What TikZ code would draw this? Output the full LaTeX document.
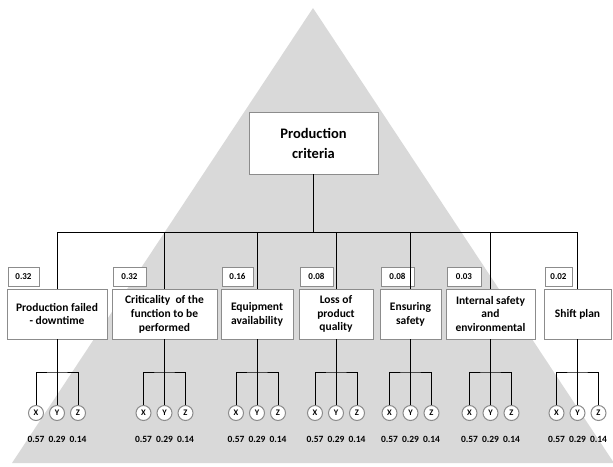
\documentclass[tikz,border=0pt]{standalone}
\usepackage{fontspec}
\setmainfont{Carlito}
\usetikzlibrary{positioning}
\definecolor{pyramid}{HTML}{D9D9D9}
\definecolor{frame}{HTML}{8C8C8C}
\tikzset{
  critbox/.style={draw=frame,fill=white,line width=0.8pt,minimum height=50pt,
    inner sep=1pt,align=center,font=\bfseries\fontsize{11.5}{13.9}\selectfont},
  weightbox/.style={draw=frame,fill=white,line width=0.8pt,minimum height=19pt,
    inner sep=1pt,anchor=south west,font=\bfseries\fontsize{9}{10}\selectfont},
  alt/.style={circle,draw=frame,fill=white,line width=1pt,minimum size=15pt,
    inner sep=0pt,font=\bfseries\fontsize{8.5}{9}\selectfont},
  val/.style={inner sep=0pt,font=\bfseries\fontsize{9.5}{10}\selectfont},
  link/.style={line width=1pt}
}
\begin{document}
\begin{tikzpicture}[x=1pt,y=-1pt,line join=miter]
  \useasboundingbox (0,0) rectangle (613,466);
  % background pyramid
  \fill[pyramid] (313,8) -- (614,463) -- (12,463) -- cycle;
  % goal
  \node[critbox,minimum width=129pt,minimum height=62pt,
    font=\bfseries\fontsize{14.5}{20}\selectfont] (goal) at (313.5,143) {Production\\criteria};
  \coordinate (bus) at (313.5,232);
  \draw[link] (goal) -- (bus);
  % criteria with weights and alternatives
  \foreach \n/\cx/\w/\ww/\wt/\lbl in {
      c1/57/100/31/0.32/{Production failed\\- downtime},
      c2/164.5/105/33/0.32/{Criticality~ of the\\function to be\\performed},
      c3/257/72/31/0.16/{Equipment\\availability},
      c4/336/74/33/0.08/{Loss of\\product\\quality},
      c5/410.5/61/33/0.08/{Ensuring\\safety},
      c6/490.5/89/34/0.03/{Internal safety\\and\\environmental},
      c7/577.5/67/27/0.02/{Shift plan}}{
    \node[critbox,minimum width=\w pt] (\n) at (\cx,314) {\lbl};
    \node[weightbox,minimum width=\ww pt] (\n w) at ([shift={(1,-2)}]\n.north west) {\wt};
    \draw[link] (\n.north) -- (\n.north |- bus);
    \node[alt] (\n y) at (\cx,413) {Y};
    \node[alt,left=5pt of \n y] (\n x) {X};
    \node[alt,right=5pt of \n y] (\n z) {Z};
    \coordinate (\n b) at (\cx,372);
    \draw[link] (\n) -- (\n y);
    \draw[link] (\n x) |- (\n b) -| (\n z);
    \node[val,below=15pt of \n x] {0.57};
    \node[val,below=15pt of \n y] {0.29};
    \node[val,below=15pt of \n z] {0.14};
  }
  \draw[link] (c1.north |- bus) -- (c7.north |- bus);
\end{tikzpicture}
\end{document}
